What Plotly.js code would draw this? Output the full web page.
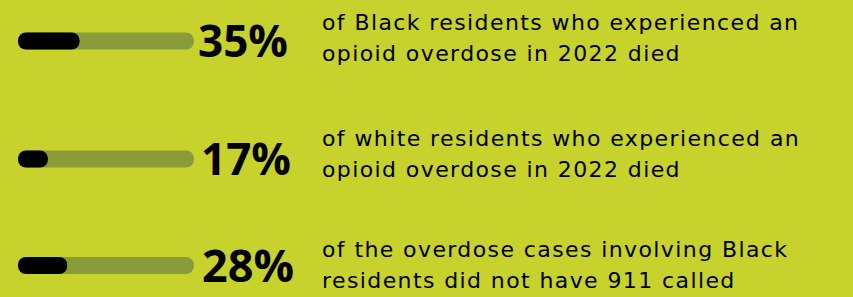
<!DOCTYPE html>
<html>
<head>
<meta charset="utf-8">
<script src="https://cdn.plot.ly/plotly-3.0.1.min.js"></script>
<style>
  html, body { margin: 0; padding: 0; background: #c7d22d; }
  #chart { width: 853px; height: 297px; }
</style>
</head>
<body>
<div id="chart"></div>
<script>
// ---- data ----
const categories = ["Black residents died", "White residents died", "No 911 call (Black)"];
const values = [35, 17, 28];
const trackMax = 100;
const labels = ["35%", "17%", "28%"];
const line1 = [
  "of Black residents who experienced an",
  "of white residents who experienced an",
  "of the overdose cases involving Black"
];
const line2 = [
  "opioid overdose in 2022 died",
  "opioid overdose in 2022 died",
  "residents did not have 911 called"
];

// ---- layout helpers ----
const W = 853, H = 297;
const x0px = 18, pxPerUnit = 1.76;
const xRange = [-x0px / pxPerUnit, (W - x0px) / pxPerUnit];
const centersPx = [41, 159, 265.5];
const descUp = [3.5, 5.5, 1];
const labelShift = [2, 5, 6];
const labelSize = [44, 44, 45];
const domH = 60;
const barW = 17 / domH;
const trackColor = "#8a9b3a";
const fillColor = "#000000";
const axNames = ["y", "y2", "y3"];
const axKeys = ["yaxis", "yaxis2", "yaxis3"];
const descFont = {family: "DejaVu Sans, sans-serif", size: 22, color: "#000"};

const traces = [];
const annotations = [];
const layout = {
  width: W, height: H,
  margin: {l: 0, r: 0, t: 0, b: 0},
  paper_bgcolor: "#c7d22d",
  plot_bgcolor: "rgba(0,0,0,0)",
  showlegend: false,
  barmode: "overlay",
  xaxis: {range: xRange, visible: false, fixedrange: true},
};

categories.forEach((cat, i) => {
  const ya = axNames[i];
  const c = 1 - centersPx[i] / H;
  const d = domH / H;
  layout[axKeys[i]] = {
    domain: [c - d / 2, c + d / 2],
    range: [-0.5, 0.5],
    type: "category",
    visible: false,
    fixedrange: true
  };
  traces.push({
    type: "bar", orientation: "h",
    y: [cat], x: [trackMax], base: [0],
    width: barW,
    marker: {color: trackColor, cornerradius: 8.5, line: {width: 0}},
    yaxis: ya, hoverinfo: "skip"
  });
  traces.push({
    type: "bar", orientation: "h",
    y: [cat], x: [values[i]], base: [0],
    width: barW,
    marker: {color: fillColor, cornerradius: 8.5, line: {width: 0}},
    yaxis: ya, hoverinfo: "skip"
  });
  annotations.push({
    x: trackMax, xref: "x", xanchor: "left", xshift: labelShift[i],
    y: cat, yref: ya, yanchor: "middle", yshift: 1,
    text: "<b>" + labels[i] + "</b>",
    showarrow: false,
    font: {family: "Open Sans, sans-serif", size: labelSize[i], weight: 800, color: "#000"}
  });
  const descX = (320 - x0px) / pxPerUnit;
  annotations.push({
    x: descX, xref: "x", xanchor: "left", align: "left",
    y: cat, yref: ya, yanchor: "middle", yshift: descUp[i] + 15.5,
    text: line1[i], showarrow: false, font: descFont
  });
  annotations.push({
    x: descX, xref: "x", xanchor: "left", align: "left",
    y: cat, yref: ya, yanchor: "middle", yshift: descUp[i] - 15.5,
    text: line2[i], showarrow: false, font: descFont
  });
});
layout.annotations = annotations;

Plotly.newPlot("chart", traces, layout, {displayModeBar: false, staticPlot: true}).then(() => {
  document.querySelectorAll("#chart .annotation-text").forEach(t => {
    if (t.textContent.indexOf("%") < 0) {
      t.style.letterSpacing = "1.4px";
      t.setAttribute("text-anchor", "start");
    }
  });
});
</script>
</body>
</html>
